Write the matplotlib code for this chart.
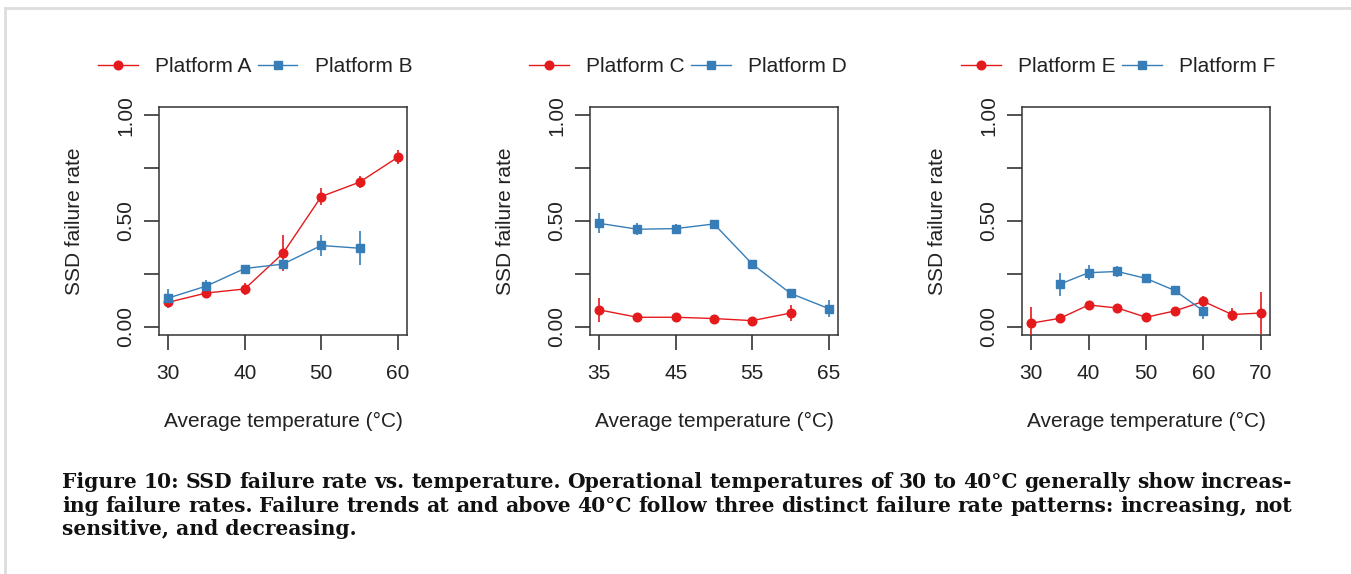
import matplotlib
matplotlib.use("Agg")
import matplotlib.pyplot as plt
from matplotlib.lines import Line2D

RED = "#E41A1C"
BLUE = "#377EB8"

# ── Data ────────────────────────────────────────────────────────────────
temps_a = [30, 35, 40, 45, 50, 55, 60]
rate_a = [0.115, 0.159, 0.178, 0.347, 0.616, 0.684, 0.802]
err_a = [0.012, 0.012, 0.030, 0.085, 0.040, 0.028, 0.033]

temps_b = [30, 35, 40, 45, 50, 55]
rate_b = [0.135, 0.192, 0.275, 0.296, 0.384, 0.371]
err_b = [0.045, 0.028, 0.015, 0.022, 0.052, 0.080]

temps_c = [35, 40, 45, 50, 55, 60]
rate_c = [0.079, 0.044, 0.044, 0.038, 0.028, 0.064]
err_c = [0.058, 0.006, 0.006, 0.005, 0.005, 0.040]

temps_d = [35, 40, 45, 50, 55, 60, 65]
rate_d = [0.489, 0.461, 0.464, 0.486, 0.296, 0.157, 0.085]
err_d = [0.048, 0.028, 0.024, 0.015, 0.010, 0.010, 0.040]

temps_e = [30, 35, 40, 45, 50, 55, 60, 65, 70]
rate_e = [0.016, 0.039, 0.102, 0.088, 0.044, 0.074, 0.119, 0.057, 0.064]
err_e = [0.078, 0.006, 0.010, 0.008, 0.006, 0.008, 0.025, 0.030, 0.100]

temps_f = [35, 40, 45, 50, 55, 60]
rate_f = [0.201, 0.255, 0.261, 0.228, 0.171, 0.074]
err_f = [0.055, 0.035, 0.025, 0.020, 0.020, 0.040]

panels = [
    (("Platform A", temps_a, rate_a, err_a), ("Platform B", temps_b, rate_b, err_b),
     [30, 40, 50, 60], (28.8, 61.2), 159),
    (("Platform C", temps_c, rate_c, err_c), ("Platform D", temps_d, rate_d, err_d),
     [35, 45, 55, 65], (33.8, 66.2), 590),
    (("Platform E", temps_e, rate_e, err_e), ("Platform F", temps_f, rate_f, err_f),
     [30, 40, 50, 60, 70], (28.4, 71.6), 1022),
]

caption = [
    "Figure 10: SSD failure rate vs. temperature. Operational temperatures of 30 to 40°C generally show increas-",
    "ing failure rates. Failure trends at and above 40°C follow three distinct failure rate patterns: increasing, not",
    "sensitive, and decreasing.",
]

W, H = 1351, 574
FS = 15
MS = 6.2
fig = plt.figure(figsize=(W / 100, H / 100), dpi=100)
plt.rcParams['font.family'] = ['Liberation Sans', 'DejaVu Sans']

# thin grey frame of the page screenshot (top + left)
fig.add_artist(Line2D([5 / W, 1], [1 - 8 / H, 1 - 8 / H], color="#dddddd", lw=2))
fig.add_artist(Line2D([5 / W, 5 / W], [0, 1 - 8 / H], color="#dddddd", lw=2))

for red, blue, xticks, xlim, left_px in panels:
    ax = fig.add_axes([left_px / W, (H - 335) / H, 248 / W, 228 / H])

    handles = []
    for (name, x, y, e), col, mk in [(red, RED, "o"), (blue, BLUE, "s")]:
        ax.errorbar(x, y, yerr=e, color=col, marker=mk, markersize=MS, lw=1.0,
                    elinewidth=1.2, capsize=0, zorder=3)
        handles.append(Line2D([], [], color=col, marker=mk, markersize=MS, lw=1.0, label=name))

    ax.set_xlim(*xlim)
    ax.set_ylim(-0.04, 1.04)
    ax.set_xticks(xticks)
    ax.set_yticks([0, 0.25, 0.5, 0.75, 1.0])
    ax.set_yticklabels(["0.00", "", "0.50", "", "1.00"], rotation=90, va="center")
    ax.tick_params(direction="out", length=11, width=1.2, labelsize=FS, colors="#333333",
                   labelcolor="#222222")
    ax.tick_params(axis="x", pad=10)
    ax.tick_params(axis="y", pad=6)
    for sp in ax.spines.values():
        sp.set_linewidth(1.1)
        sp.set_color("#333333")
    ax.set_xlabel("Average temperature (°C)", fontsize=FS, labelpad=21, color="#222222")
    ax.set_ylabel("SSD failure rate", fontsize=FS, labelpad=23, color="#222222")

    leg = ax.legend(handles=handles, loc="center left", bbox_to_anchor=(-0.246, 1 + 40 / 228),
                    ncol=2, frameon=False, fontsize=FS, handlelength=1.9, handletextpad=0.85,
                    columnspacing=0.3, borderaxespad=0, borderpad=0)
    for t in leg.get_texts():
        t.set_color("#222222")

# caption, justified like the paper (last line ragged)
renderer = fig.canvas.get_renderer()
x_left, x_right = 62, 1292
for i, line in enumerate(caption):
    y = 1 - (482 + 23.5 * i) / H
    style = dict(fontsize=14.6, fontweight="bold", family="DejaVu Serif", va="center",
                 ha="left", color="#111111")
    if i == len(caption) - 1:
        fig.text(x_left / W, y, line, **style)
        continue
    words = line.split(" ")
    texts = [fig.text(0, y, w, **style) for w in words]
    widths = [t.get_window_extent(renderer).width for t in texts]
    gap = (x_right - x_left - sum(widths)) / (len(words) - 1)
    x = x_left
    for t, w in zip(texts, widths):
        t.set_x(x / W)
        x += w + gap

fig.savefig("out.png", dpi=100, facecolor="white")
